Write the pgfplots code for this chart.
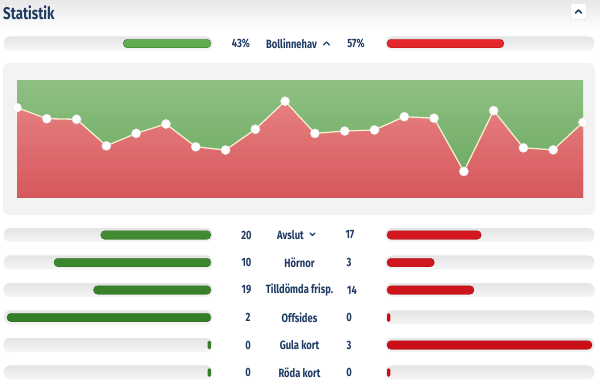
\documentclass[border=0pt]{standalone}
\usepackage{fontspec}
\setmainfont{Fira Sans}[FakeStretch=0.78]
\usepackage{pgfplots}
\pgfplotsset{compat=1.18}
\usepackage{pgfplotstable}
\definecolor{navy}{HTML}{1F3B64}
\definecolor{gbartop}{HTML}{62AB4E}
\definecolor{gbarbot}{HTML}{327D25}
\definecolor{rbartop}{HTML}{E5262C}
\definecolor{rbarbot}{HTML}{C80F17}
\definecolor{tracktop}{HTML}{E4E4E4}
\definecolor{trackbot}{HTML}{F6F6F6}
\definecolor{panel}{HTML}{F3F3F3}
\definecolor{gtop}{HTML}{8FC083}
\definecolor{gbot}{HTML}{65A65A}
\definecolor{rtop}{HTML}{E68080}
\definecolor{rbot}{HTML}{D5575C}
\definecolor{linecol}{HTML}{F4EDD2}

% possession share per interval (home, %)
\pgfplotstableread{
x v
0 76.9
1 67.5
2 67.0
3 44.4
4 55.0
5 63.0
6 43.6
7 40.8
8 58.5
9 82.4
10 55.0
11 57.0
12 57.9
13 69.2
14 67.9
15 22.6
16 74.4
17 42.7
18 41.0
19 64.4
}\possession

% row y (px), home value, away value, home share, away share
\pgfplotstableread{
y home away hs as
43.5 43 57 0.43 0.57
235 20 17 0.5405 0.4595
262.5 10 3 0.7692 0.2308
290 19 14 0.5758 0.4242
317.5 2 0 1.0 0.016
345 0 3 0.016 1.0
372.5 0 0 0.016 0.016
}\bars

\begin{document}
\begin{tikzpicture}[x=1pt,y=-1pt]
% background
\fill[white] (0,0) rectangle (600,387);
\shade[top color=black!9, bottom color=white] (0,0) rectangle (600,30);
% title
\node[anchor=west, text=navy, inner sep=0pt, font=\fontsize{17}{17}\selectfont\bfseries] at (3,12.5) {Statistik};
% button
\draw[black!15, fill=white, rounded corners=1.5pt] (570.5,3.5) rectangle (586.5,19.5);
\draw[navy, line width=1.6pt, line cap=round, line join=round] (575.5,13) -- (578.5,10) -- (581.5,13);

% tracks
\foreach \yy/\h in {43.5/7.5,235/7.5,262.5/7.5,290/7.5,317.5/7.5,345/7.5,372.5/7.5}{
  \shade[top color=tracktop, bottom color=trackbot, rounded corners=7pt, draw=white, line width=0.8pt]
    (3,\yy-\h) rectangle (213,\yy+\h);
  \shade[top color=tracktop, bottom color=trackbot, rounded corners=7pt, draw=white, line width=0.8pt]
    (385,\yy-\h) rectangle (595,\yy+\h);
}

% chart panel
\fill[panel, rounded corners=6pt] (3,63) rectangle (595,215);

% left (home) bars
\begin{axis}[at={(211pt,-387pt)}, anchor=south east, scale only axis,
  width=204pt, height=387pt, xmin=0, xmax=1, x dir=reverse,
  ymin=0, ymax=387, y dir=reverse, hide axis, clip=false,
  xbar, bar width=8.5pt, bar shift=0pt]
\addplot[draw=gbarbot!80!black, line width=0.3pt, top color=gbartop, bottom color=gbarbot, rounded corners=4pt,
  restrict x to domain=0.05:1.1] table[x=hs, y=y]{\bars};
\addplot[draw=none, fill=gbarbot, rounded corners=1.3pt,
  restrict x to domain=0:0.05] table[x=hs, y=y]{\bars};
\end{axis}

% right (away) bars
\begin{axis}[at={(387pt,-387pt)}, anchor=south west, scale only axis,
  width=205pt, height=387pt, xmin=0, xmax=1,
  ymin=0, ymax=387, y dir=reverse, hide axis, clip=false,
  xbar, bar width=8.5pt, bar shift=0pt]
\addplot[draw=rbarbot!80!black, line width=0.3pt, top color=rbartop, bottom color=rbarbot, rounded corners=4pt,
  restrict x to domain=0.05:1.1] table[x=as, y=y]{\bars};
\addplot[draw=none, fill=rbarbot, rounded corners=1.3pt,
  restrict x to domain=0:0.05] table[x=as, y=y]{\bars};
\end{axis}

% possession chart
\begin{axis}[at={(17pt,-198pt)}, anchor=south west, scale only axis,
  width=566pt, height=117.5pt, xmin=0, xmax=19, ymin=0, ymax=100,
  axis line style={draw=none}, ticks=none, clip=false,
  axis background/.style={top color=gtop, bottom color=gbot}]
\addplot[draw=none, top color=rtop, bottom color=rbot] table[x=x, y=v]{\possession} \closedcycle;
\addplot[linecol, line width=1.3pt, mark=*, mark size=4.6pt,
  mark options={fill=white, draw=black!12, line width=0.4pt}] table[x=x, y=v]{\possession};
\end{axis}

% texts
\tikzset{lab/.style={text=navy, inner sep=0pt, font=\fontsize{12}{12}\selectfont\bfseries}}
\node[lab] at (241,43.5) {43\%};
\node[lab, anchor=west] at (266,43.5) {Bollinnehav};
\draw[navy, line width=1.3pt, line cap=round, line join=round] (323.5,45) -- (326.5,42) -- (329.5,45);
\node[lab] at (356,43.5) {57\%};

\node[lab] at (246.5,235) {20};
\node[lab, anchor=west] at (277,235) {Avslut};
\draw[navy, line width=1.1pt, line cap=round, line join=round] (310,233) -- (312.5,235.5) -- (315,233);
\node[lab] at (350,235) {17};

\node[lab] at (246.5,262.5) {10};
\node[lab] at (299.5,262.5) {Hörnor};
\node[lab] at (349,262.5) {3};

\node[lab] at (246.5,290) {19};
\node[lab] at (299.5,290) {Tilldömda frisp.};
\node[lab] at (352,290) {14};

\node[lab] at (248,317.5) {2};
\node[lab] at (299.5,317.5) {Offsides};
\node[lab] at (349,317.5) {0};

\node[lab] at (248,345) {0};
\node[lab] at (299.5,345) {Gula kort};
\node[lab] at (349,345) {3};

\node[lab] at (248,372.5) {0};
\node[lab] at (299.5,372.5) {Röda kort};
\node[lab] at (349,372.5) {0};
\end{tikzpicture}
\end{document}
